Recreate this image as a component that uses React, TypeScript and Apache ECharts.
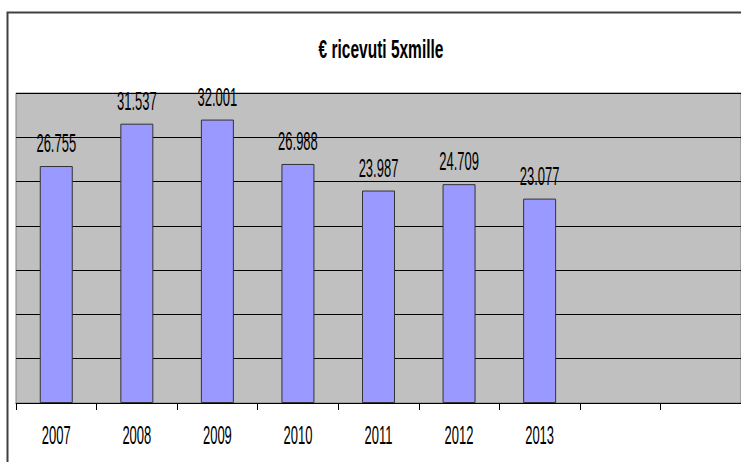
import React, { useEffect, useRef } from "react";
import * as echarts from "echarts";

const categories = ["2007", "2008", "2009", "2010", "2011", "2012", "2013", "", ""];
const values: (number | null)[] = [26755, 31537, 32001, 26988, 23987, 24709, 23077, null, null];
const titleText = "€ ricevuti 5xmille";

const FONT = "'Liberation Sans', Arial, sans-serif";
const SX = 0.52;

function fmt(v: number): string {
  return String(v).replace(/\B(?=(\d{3})+(?!\d))/g, ".");
}

export default function App() {
  const ref = useRef<HTMLDivElement>(null);
  useEffect(() => {
    if (!ref.current) return;
    const chart = echarts.init(ref.current, null, { renderer: "svg" });
    chart.setOption({
      animation: false,
      backgroundColor: "#ffffff",
      grid: {
        left: 16,
        top: 93,
        right: 0,
        bottom: 59,
        show: true,
        backgroundColor: "#c0c0c0",
        borderColor: "#808080",
        borderWidth: 1,
      },
      xAxis: {
        type: "category",
        data: categories,
        boundaryGap: true,
        axisLine: { show: true, lineStyle: { color: "#000", width: 1 } },
        axisTick: { show: true, interval: 0, length: 7, lineStyle: { color: "#000" } },
        axisLabel: { show: false },
      },
      yAxis: {
        type: "value",
        min: 0,
        max: 35000,
        interval: 5000,
        axisLine: { show: false },
        axisTick: { show: false },
        axisLabel: { show: false },
        splitLine: { show: true, lineStyle: { color: "#000", width: 1 } },
      },
      series: [
        {
          type: "bar",
          data: values,
          barWidth: 33,
          itemStyle: { color: "#9999ff", borderColor: "#333333", borderWidth: 1 },
          label: { show: false },
        },
      ],
    });

    const graphics: any[] = [
      {
        type: "rect",
        shape: { x: 7.5, y: 12.5, width: 800, height: 500 },
        style: { fill: "none", stroke: "#404040", lineWidth: 2 },
        z: 100,
      },
      {
        type: "text",
        x: 381,
        y: 49,
        scaleX: 0.62,
        style: {
          text: titleText,
          font: `bold 25px ${FONT}`,
          fill: "#000",
          textAlign: "center",
          textVerticalAlign: "middle",
        },
        z: 100,
      },
    ];

    categories.forEach((c, i) => {
      if (!c) return;
      const p: any = chart.convertToPixel({ xAxisIndex: 0 }, i);
      const cx = Array.isArray(p) ? p[0] : p;
      graphics.push({
        type: "text",
        x: cx,
        y: 435.5,
        scaleX: SX,
        style: {
          text: c,
          font: `25px ${FONT}`,
          fill: "#000",
          textAlign: "center",
          textVerticalAlign: "middle",
        },
        z: 100,
      });
    });

    values.forEach((v, i) => {
      if (v == null) return;
      const p = chart.convertToPixel({ seriesIndex: 0 }, [i, v]) as number[];
      graphics.push({
        type: "text",
        x: p[0],
        y: p[1] - 22.5,
        scaleX: SX,
        style: {
          text: fmt(v),
          font: `25px ${FONT}`,
          fill: "#000",
          textAlign: "center",
          textVerticalAlign: "middle",
        },
        z: 100,
      });
    });

    chart.setOption({ graphic: graphics });
    return () => chart.dispose();
  }, []);
  return (
    <div
      ref={ref}
      style={{ position: "fixed", left: 0, top: 0, width: 741, height: 462 }}
    />
  );
}
